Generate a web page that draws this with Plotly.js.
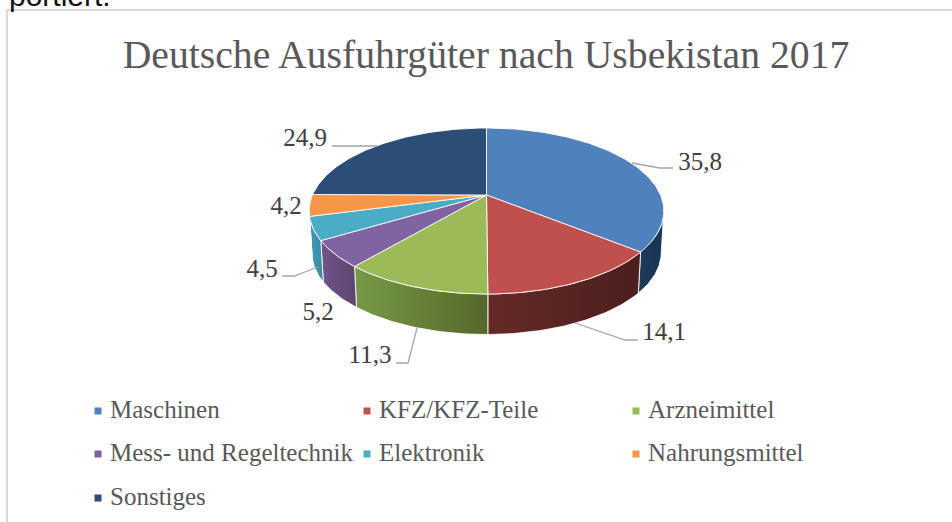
<!DOCTYPE html>
<html>
<head>
<meta charset="utf-8">
<script src="https://cdn.plot.ly/plotly-3.0.1.min.js"></script>
<style>html,body{margin:0;padding:0;background:#fff;overflow:hidden}#chart{width:952px;height:522px}</style>
</head>
<body>
<div id="chart"></div>
<script>
// ---- data ----
const categories = ['Maschinen','KFZ/KFZ-Teile','Arzneimittel','Mess- und Regeltechnik','Elektronik','Nahrungsmittel','Sonstiges'];
const shares = [35.8,14.1,11.3,5.2,4.5,4.2,24.9];
const titleText = 'Deutsche Ausfuhrgüter nach Usbekistan 2017';

// ---- styles ----
const topColors = ['#4f81bd','#c0504d','#9bbb59','#8064a2','#4bacc6','#f79646','#2c4d75'];
const sideLeft  = ['#1f3a5c','#652a28','#769a46','#70558a','#3f9ab5','#c0752f','#1f3a5c'];
const sideRight = ['#1a3352','#4a1f1d','#55672b','#5c446f','#3a8ba3','#c0752f','#1f3a5c'];
const GREY = '#595959', SERIF = 'Liberation Serif, serif';

// ---- pie geometry (perspective tilted disc) ----
const CX=486.5, CY=195, A=174, B=79.9, K=0.193, SCALE=0.985, DEPTH=42;
function rim(deg,bottom){
  const t=deg*Math.PI/180, u=Math.sin(t), v=-Math.cos(t), w=1-K*v;
  const X=A*u/w, Y=B*v/w;
  return bottom ? [CX+X*SCALE, CY+Y*SCALE+DEPTH] : [CX+X, CY+Y];
}
function arc(a0,a1,bottom){
  const out=[], n=Math.max(2,Math.ceil(Math.abs(a1-a0)));
  for(let i=0;i<=n;i++) out.push(rim(a0+(a1-a0)*i/n,bottom));
  return out;
}
const traces=[];
const SEP='rgba(255,255,255,0.85)';
let cum=0; const spans=shares.map(s=>{const r=[cum*3.6,(cum+s)*3.6];cum+=s;return r;});

// side walls first
spans.forEach((sp,i)=>{
  const a0=Math.max(sp[0],100.5), a1=Math.min(sp[1],259.5);
  if(a1<=a0) return;
  const pts=arc(a0,a1,false).concat(arc(a1,a0,true));
  pts.push(pts[0]);
  traces.push({type:'scatter',mode:'lines',x:pts.map(p=>p[0]),y:pts.map(p=>p[1]),fill:'toself',
    fillgradient:{type:'horizontal',colorscale:[[0,sideLeft[i]],[1,sideRight[i]]]},
    line:{color:SEP,width:1},hoverinfo:'skip',showlegend:false});
});
// top faces
spans.forEach((sp,i)=>{
  const pts=[[CX,CY]].concat(arc(sp[0],sp[1],false)); pts.push([CX,CY]);
  traces.push({type:'scatter',mode:'lines',x:pts.map(p=>p[0]),y:pts.map(p=>p[1]),fill:'toself',
    fillcolor:topColors[i],line:{color:SEP,width:1},name:categories[i],text:categories[i],
    hoverinfo:'text',showlegend:false});
});
// leader lines
const leaders=[
 [[632,163],[660,168],[673,168]],
 [[575,323],[625,340],[638,340]],
 [[417,328],[408,363],[396,363]],
 null,
 [[318,267],[294,276],[282,276]],
 null,
 [[378,146],[332,146]]
];
leaders.forEach(l=>{ if(!l) return;
  traces.push({type:'scatter',mode:'lines',x:l.map(p=>p[0]),y:l.map(p=>p[1]),
    line:{color:'#a6a6a6',width:1.3},hoverinfo:'skip',showlegend:false});
});
// value labels
const labelX=[700,664,370,318,262,286,305], labelY=[164,334,357,314,271,208,140];
traces.push({type:'scatter',mode:'text',x:labelX,y:labelY,
  text:shares.map(v=>v.toFixed(1).replace('.',',')),textposition:'middle center',
  textfont:{family:SERIF,size:25,color:'#404040'},hoverinfo:'skip',showlegend:false});
// legend
const COLX=[98,367,636], ROWY=[411,454,498];
const lx=categories.map((c,i)=>COLX[i%3]), ly=categories.map((c,i)=>ROWY[Math.floor(i/3)]);
traces.push({type:'scatter',mode:'markers',x:lx,y:ly,
  marker:{symbol:'square',size:7,color:topColors},hoverinfo:'skip',showlegend:false});
traces.push({type:'scatter',mode:'text',x:lx.map(v=>v+12),y:ly.map(v=>v+1),text:categories,textposition:'middle right',
  textfont:{family:SERIF,size:25,color:GREY},hoverinfo:'skip',showlegend:false});

const hidden={visible:false,fixedrange:true};
Plotly.newPlot('chart',traces,{
  width:952,height:522,margin:{l:0,r:0,t:0,b:0,pad:0},
  paper_bgcolor:'#fff',plot_bgcolor:'#fff',showlegend:false,
  xaxis:Object.assign({range:[0,952]},hidden),
  yaxis:Object.assign({range:[522,0]},hidden),
  title:{text:titleText,font:{family:SERIF,size:39.7,color:GREY},x:0.5105,xanchor:'center',y:0.896,yanchor:'middle'},
  shapes:[
    {type:'line',xref:'x',yref:'y',x0:7,x1:7,y0:9,y1:522,line:{color:'#d9d9d9',width:2},layer:'below'},
    {type:'line',xref:'x',yref:'y',x0:6,x1:952,y0:10,y1:10,line:{color:'#d9d9d9',width:2},layer:'below'}
  ],
  annotations:[{text:'portiert.',xref:'paper',yref:'paper',x:0.007,y:1.0,yshift:5,xanchor:'left',yanchor:'middle',showarrow:false,
    font:{family:'Liberation Sans, sans-serif',size:30,color:'#111'}}]
},{displayModeBar:false});
</script>
</body>
</html>
